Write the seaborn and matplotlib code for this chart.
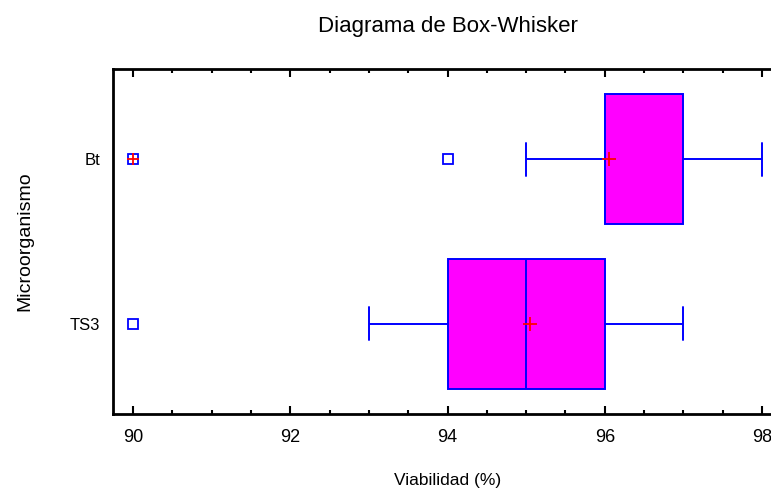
import numpy as np
import pandas as pd
import matplotlib
matplotlib.use("Agg")
import matplotlib.pyplot as plt
from matplotlib.ticker import MultipleLocator
import seaborn as sns

# Viability (%) observations per microorganism
grupos = ["Bt", "TS3"]
viab_bt = [90, 94, 95, 96, 96, 96, 96, 96, 96, 96, 96,
           97, 97, 97, 97, 97, 97, 97, 97, 98]
viab_ts3 = [90, 93, 94, 94, 94, 94, 95, 95, 95, 95, 95, 95,
            96, 96, 96, 96, 97, 97, 97, 97]
x_ticks = [90, 92, 94, 96, 98]

df = pd.DataFrame({
    "Microorganismo": ["Bt"] * len(viab_bt) + ["TS3"] * len(viab_ts3),
    "Viabilidad": viab_bt + viab_ts3,
})

# Far outliers (beyond 3 IQR from the box) get an extra cross
far_rows = []
for g, vals in zip(grupos, [viab_bt, viab_ts3]):
    q1, q3 = np.percentile(vals, [25, 75])
    iqr = q3 - q1
    for v in vals:
        if v < q1 - 3 * iqr or v > q3 + 3 * iqr:
            far_rows.append({"Microorganismo": g, "Viabilidad": v})
far_df = pd.DataFrame(far_rows, columns=["Microorganismo", "Viabilidad"])

sns.set_style("white")
plt.rcParams["font.family"] = ["Liberation Sans", "DejaVu Sans"]
plt.rcParams["text.color"] = "black"
plt.rcParams["axes.labelcolor"] = "black"
plt.rcParams["xtick.color"] = "black"
plt.rcParams["ytick.color"] = "black"

fig = plt.figure(figsize=(7.71, 4.90), dpi=100)
ax = fig.add_axes([113 / 771, 1 - 414 / 490, 658 / 771, 345 / 490])

sns.boxplot(
    data=df, x="Viabilidad", y="Microorganismo", order=grupos, orient="h",
    width=0.79, color="#FF00FF", linecolor="#0000FF", linewidth=1.4,
    saturation=1, whis=1.5, capwidths=0.2, ax=ax,
    showmeans=True,
    meanprops=dict(marker="+", markeredgecolor="red", markerfacecolor="red",
                   markersize=10, markeredgewidth=1.3),
    flierprops=dict(marker="s", markerfacecolor="white",
                    markeredgecolor="#0000FF", markersize=7,
                    markeredgewidth=1.3),
)

if len(far_df):
    sns.scatterplot(data=far_df, x="Viabilidad", y="Microorganismo",
                    marker="+", color="red", s=70, linewidth=1.3,
                    zorder=5, ax=ax, legend=False)

ax.set_xlim(89.746, 98.114)
ax.set_ylim(1.55, -0.55)
ax.set_xticks(x_ticks)
ax.set_xticklabels([str(t) for t in x_ticks])
ax.xaxis.set_minor_locator(MultipleLocator(0.5))

ax.tick_params(axis="x", which="both", direction="in", top=True,
               bottom=True, color="black", labelcolor="black", width=1.5,
               labelsize=13, pad=11)
ax.tick_params(axis="x", which="major", length=6)
ax.tick_params(axis="x", which="minor", length=3)
ax.tick_params(axis="y", length=0, pad=9, labelsize=12, labelcolor="black")

for side in ["left", "bottom", "top"]:
    ax.spines[side].set_visible(True)
    ax.spines[side].set_color("black")
    ax.spines[side].set_linewidth(2)
ax.spines["right"].set_visible(False)

ax.set_title("Diagrama de Box-Whisker", fontsize=16, x=0.509, y=1.107,
             pad=0, color="black")
ax.set_xlabel("Viabilidad (%)", fontsize=12.5, color="black")
ax.xaxis.set_label_coords(0.508, -0.17)
ax.set_ylabel("Microorganismo", fontsize=14, color="black")
ax.yaxis.set_label_coords(-0.1216, 0.5)

fig.savefig("out.png", dpi=100)
